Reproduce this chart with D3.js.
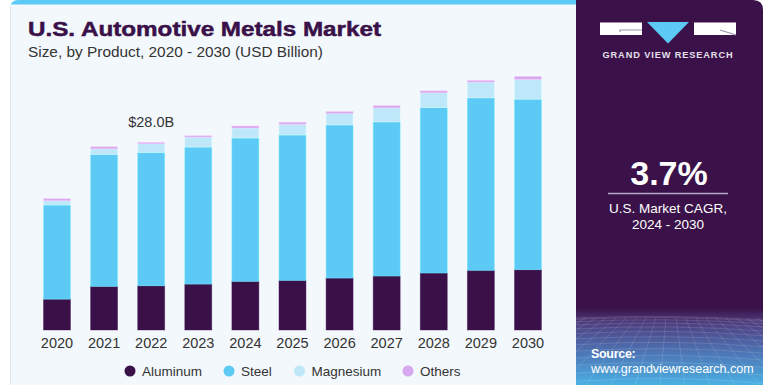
<!DOCTYPE html>
<html>
<head>
<meta charset="utf-8">
<script src="https://cdn.jsdelivr.net/npm/d3@7"></script>
<style>
  html, body { margin: 0; padding: 0; background: #ffffff; }
  svg { display: block; }
  text { font-family: "Liberation Sans", Arial, sans-serif; }
</style>
</head>
<body>
<script>
// ---- data ----
const years = ["2020","2021","2022","2023","2024","2025","2026","2027","2028","2029","2030"];
const aluminum  = [4.6, 6.5, 6.6, 6.85, 7.25, 7.4, 7.75, 8.05, 8.5, 8.9, 9.0];
const steel     = [14.05, 19.7, 19.9, 20.45, 21.4, 21.7, 22.85, 23.0, 24.7, 25.75, 25.45];
const magnesium = [0.65, 0.85, 1.3, 1.5, 1.5, 1.6, 1.7, 2.1, 2.2, 2.35, 2.95];
const others    = [0.3, 0.3, 0.2, 0.2, 0.3, 0.3, 0.3, 0.35, 0.3, 0.25, 0.45];
const seriesNames = ["Aluminum", "Steel", "Magnesium", "Others"];
const seriesColors = ["#3a1049", "#5ccaf5", "#bee8f9", "#d6a8ee"];
const annotation = { year: "2022", label: "$28.0B" };
const cagrValue = "3.7%";
const cagrLines = ["U.S. Market CAGR,", "2024 - 2030"];

const W = 763, H = 385;
const svg = d3.select("body").append("svg").attr("width", W).attr("height", H);

// ---- backgrounds ----
const defs = svg.append("defs");
const clip = defs.append("clipPath").attr("id", "leftclip");
clip.append("rect").attr("x", 10).attr("y", 0).attr("width", 600).attr("height", 420).attr("rx", 8);

svg.append("g").attr("clip-path", "url(#leftclip)").call(g => {
  g.append("rect").attr("x", 10).attr("y", 0).attr("width", 580).attr("height", H).attr("fill", "#f3f8fc");
  g.append("rect").attr("x", 10).attr("y", 0).attr("width", 580).attr("height", 4.5).attr("fill", "#5ccaf5");
});
svg.append("line").attr("x1", 10.5).attr("x2", 10.5).attr("y1", 6).attr("y2", H)
  .attr("stroke", "#e1e6ea").attr("stroke-width", 1);

// right panel
const grad = defs.append("linearGradient").attr("id", "rpgrad").attr("x1", 0).attr("y1", 0).attr("x2", 0).attr("y2", 1);
grad.append("stop").attr("offset", "0%").attr("stop-color", "#3a1249");
grad.append("stop").attr("offset", "80%").attr("stop-color", "#3a1249");
grad.append("stop").attr("offset", "84%").attr("stop-color", "#4f3f80");
grad.append("stop").attr("offset", "92%").attr("stop-color", "#4d78b8");
grad.append("stop").attr("offset", "100%").attr("stop-color", "#4ab0e2");
const rclip = defs.append("clipPath").attr("id", "rclip");
rclip.append("path").attr("d", `M576,0 H753 Q763,0 763,10 V${H} H576 Z`);
const rp = svg.append("g").attr("clip-path", "url(#rclip)");
rp.append("rect").attr("x", 576).attr("y", 0).attr("width", 187).attr("height", H).attr("fill", "url(#rpgrad)");

// perspective grid at bottom of right panel
const gridG = rp.append("g").attr("stroke", "#ffffff").attr("stroke-opacity", 0.16).attr("stroke-width", 0.8).attr("fill", "none");
const horizonY = 318;
for (let i = 0; i < 14; i++) {
  const t = i / 13;
  const y = horizonY + Math.pow(t, 1.6) * (H - horizonY + 5);
  gridG.append("path").attr("d", `M576,${y} Q670,${y - 4 - 3 * t} 763,${y + 2}`);
}
for (let i = -12; i <= 24; i++) {
  const xTop = 576 + i * 10;
  const xBot = 670 + (xTop - 670) * 2.6;
  gridG.append("line").attr("x1", xTop).attr("y1", horizonY).attr("x2", xBot).attr("y2", H + 5);
}

// ---- title ----
svg.append("text").attr("x", 28).attr("y", 36)
  .attr("font-size", 21).attr("font-weight", 900).attr("fill", "#3a1049")
  .attr("stroke", "#3a1049").attr("stroke-width", 0.5)
  .attr("textLength", 353).attr("lengthAdjust", "spacingAndGlyphs")
  .text("U.S. Automotive Metals Market");
svg.append("text").attr("x", 28).attr("y", 57)
  .attr("font-size", 15).attr("fill", "#333333")
  .attr("textLength", 295).attr("lengthAdjust", "spacingAndGlyphs")
  .text("Size, by Product, 2020 - 2030 (USD Billion)");

// ---- scales ----
const x = d3.scaleBand().domain(years).range([33.45, 551.5]).paddingInner(0.427).paddingOuter(0.2135);
const y = d3.scaleLinear().domain([0, 40]).range([330, 62]);

const table = years.map((yr, i) => ({ year: yr, Aluminum: aluminum[i], Steel: steel[i], Magnesium: magnesium[i], Others: others[i] }));
const stacked = d3.stack().keys(seriesNames)(table);

const barsG = svg.append("g");
stacked.forEach((layer, li) => {
  barsG.append("g").attr("fill", seriesColors[li])
    .selectAll("rect").data(layer).join("rect")
    .attr("x", d => x(d.data.year))
    .attr("width", x.bandwidth())
    .attr("y", d => y(d[1]))
    .attr("height", d => y(d[0]) - y(d[1]))
    .attr("stroke", d3.color(seriesColors[li]).brighter(0.5))
    .attr("stroke-opacity", 0.5)
    .attr("stroke-width", 0.8);
});

// x axis labels
const xAxis = d3.axisBottom(x).tickSize(0).tickPadding(6);
const ax = svg.append("g").attr("transform", `translate(0,${y(0) + 2})`).call(xAxis);
ax.select(".domain").remove();
ax.selectAll("text").attr("font-size", 14.5).attr("fill", "#333333")
  .attr("font-family", "'Liberation Sans', Arial, sans-serif");

// annotation
const ai = years.indexOf(annotation.year);
const annTotal = aluminum[ai] + steel[ai] + magnesium[ai] + others[ai];
svg.append("text").attr("x", x(annotation.year) + x.bandwidth() / 2).attr("y", y(annTotal) - 15)
  .attr("text-anchor", "middle").attr("font-size", 14.5).attr("fill", "#333333")
  .text(annotation.label);

// legend
const legendX = [130, 229, 299.5, 408];
const lg = svg.append("g");
seriesNames.forEach((n, i) => {
  lg.append("circle").attr("cx", legendX[i]).attr("cy", 371).attr("r", 5.5).attr("fill", seriesColors[i]);
  lg.append("text").attr("x", legendX[i] + 12).attr("y", 376).attr("font-size", 13.5).attr("fill", "#333333").text(n);
});

// ---- right panel content ----
const logo = svg.append("g");
logo.append("rect").attr("x", 600).attr("y", 22.5).attr("width", 42).attr("height", 12.5).attr("fill", "#ffffff");
logo.append("path").attr("d", "M620,32 V30 H642").attr("stroke", "#9c8fb0").attr("stroke-width", 1.2).attr("fill", "none");
logo.append("path").attr("d", "M647,22 H689 L668,43.5 Z").attr("fill", "#5ccaf5");
logo.append("rect").attr("x", 694).attr("y", 22.5).attr("width", 42).attr("height", 12.5).attr("fill", "#ffffff");
logo.append("path").attr("d", "M720,30 L736,35").attr("stroke", "#9c8fb0").attr("stroke-width", 1.2).attr("fill", "none");
svg.append("text").attr("x", 668).attr("y", 57.5).attr("text-anchor", "middle")
  .attr("font-size", 9.2).attr("font-weight", "bold").attr("letter-spacing", 0.9).attr("fill", "#e6e0ec")
  .text("GRAND VIEW RESEARCH");

svg.append("text").attr("x", 669).attr("y", 185).attr("text-anchor", "middle")
  .attr("font-size", 34).attr("font-weight", "bold").attr("fill", "#ffffff").text(cagrValue);
svg.append("line").attr("x1", 608).attr("x2", 728).attr("y1", 193.5).attr("y2", 193.5)
  .attr("stroke", "#b9a9c9").attr("stroke-width", 1.5);
cagrLines.forEach((t, i) => {
  svg.append("text").attr("x", 668).attr("y", 213 + i * 16).attr("text-anchor", "middle")
    .attr("font-size", 13.5).attr("fill", "#ffffff").text(t);
});

svg.append("text").attr("x", 591).attr("y", 358).attr("font-size", 12.5).attr("font-weight", "bold")
  .attr("fill", "#ffffff").attr("letter-spacing", -0.3).text("Source:");
svg.append("text").attr("x", 591).attr("y", 372.5).attr("font-size", 12.5)
  .attr("fill", "#ffffff").text("www.grandviewresearch.com");
</script>
</body>
</html>
